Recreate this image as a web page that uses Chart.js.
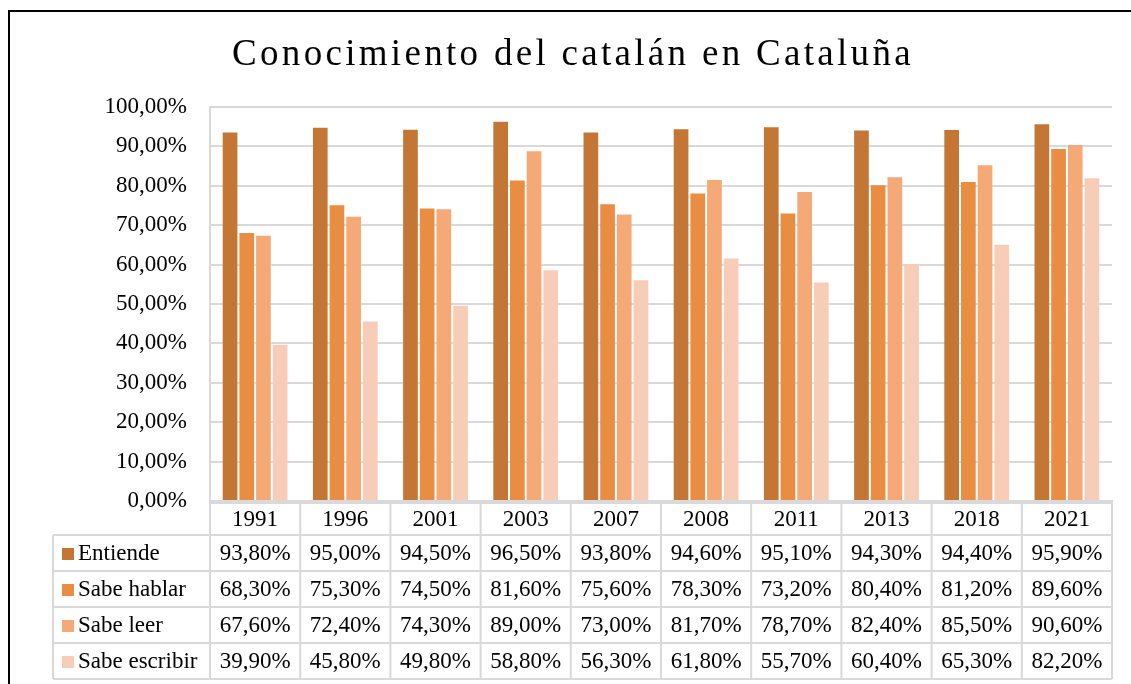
<!DOCTYPE html>
<html>
<head>
<meta charset="utf-8">
<script src="https://cdn.jsdelivr.net/npm/chart.js@4"></script>
<style>
    html, body { margin: 0; padding: 0; background: #fff; }
    #wrap { position: relative; width: 1131px; height: 684px; }
</style>
</head>
<body>
<div id="wrap"><canvas id="chart" width="1131" height="684"></canvas></div>
<script>
const years = ['1991', '1996', '2001', '2003', '2007', '2008', '2011', '2013', '2018', '2021'];
const entiende = [93.8, 95.0, 94.5, 96.5, 93.8, 94.6, 95.1, 94.3, 94.4, 95.9];
const sabeHablar = [68.3, 75.3, 74.5, 81.6, 75.6, 78.3, 73.2, 80.4, 81.2, 89.6];
const sabeLeer = [67.6, 72.4, 74.3, 89.0, 73.0, 81.7, 78.7, 82.4, 85.5, 90.6];
const sabeEscribir = [39.9, 45.8, 49.8, 58.8, 56.3, 61.8, 55.7, 60.4, 65.3, 82.2];
const seriesNames = ['Entiende', 'Sabe hablar', 'Sabe leer', 'Sabe escribir'];
const seriesColors = ['#C47734', '#E98D43', '#F5A977', '#F8CDB7'];
const yTicks = [0, 10, 20, 30, 40, 50, 60, 70, 80, 90, 100];

const FONT = '"Liberation Serif", "Times New Roman", serif';
const fmt = v => v.toFixed(2).replace('.', ',') + '%';

// draws title, frame and the data table under the plot
const tablePlugin = {
    id: 'tablePlugin',
    afterDraw(chart) {
        const ctx = chart.ctx;
        const x = chart.scales.x;
        const area = chart.chartArea;
        const n = years.length;
        const colW = (area.right - area.left) / n;
        const headTop = area.bottom + 2;
        const headH = 32;
        const rowH = 36;
        const labelLeft = 53;

        ctx.save();
        // outer frame
        ctx.strokeStyle = '#000';
        ctx.lineWidth = 2;
        ctx.beginPath();
        ctx.moveTo(9, 684);
        ctx.lineTo(9, 11);
        ctx.lineTo(1131, 11);
        ctx.stroke();

        // title
        ctx.fillStyle = '#000';
        ctx.font = '37px ' + FONT;
        ctx.letterSpacing = '3.3px';
        ctx.textAlign = 'center';
        ctx.textBaseline = 'alphabetic';
        ctx.fillText('Conocimiento del catalán en Cataluña', 573, 65);
        ctx.letterSpacing = '0px';

        // table grid
        ctx.strokeStyle = '#D9D9D9';
        ctx.lineWidth = 2;
        const tableBottom = headTop + headH + rowH * seriesNames.length;
        ctx.beginPath();
        for (let i = 0; i <= n; i++) {
            const px = area.left + i * colW;
            ctx.moveTo(px, area.bottom);
            ctx.lineTo(px, tableBottom);
        }
        ctx.moveTo(labelLeft, headTop + headH);
        ctx.lineTo(labelLeft, tableBottom);
        ctx.moveTo(area.left, headTop);
        ctx.lineTo(area.right, headTop);
        for (let r = 0; r <= seriesNames.length; r++) {
            const py = headTop + headH + r * rowH;
            ctx.moveTo(labelLeft, py);
            ctx.lineTo(area.right, py);
        }
        ctx.stroke();

        // header labels
        ctx.fillStyle = '#000';
        ctx.font = '23px ' + FONT;
        ctx.textAlign = 'center';
        ctx.textBaseline = 'middle';
        years.forEach((yr, i) => {
            ctx.fillText(yr, x.getPixelForValue(i), headTop + headH / 2 + 1);
        });

        // rows
        const rows = [entiende, sabeHablar, sabeLeer, sabeEscribir];
        rows.forEach((vals, r) => {
            const cy = headTop + headH + r * rowH + rowH / 2 + 1;
            ctx.fillStyle = seriesColors[r];
            ctx.fillRect(62, cy - 6, 12, 12);
            ctx.fillStyle = '#000';
            ctx.textAlign = 'left';
            ctx.fillText(seriesNames[r], 78, cy);
            ctx.textAlign = 'center';
            vals.forEach((v, i) => {
                ctx.fillText(fmt(v), x.getPixelForValue(i), cy);
            });
        });
        ctx.restore();
    }
};

const datasets = [entiende, sabeHablar, sabeLeer, sabeEscribir].map((d, i) => ({
    label: seriesNames[i],
    data: d,
    backgroundColor: seriesColors[i],
    borderColor: 'rgba(255,255,255,0.18)',
    borderWidth: 1,
    categoryPercentage: 0.74,
    barPercentage: 1.0
}));

new Chart(document.getElementById('chart'), {
    type: 'bar',
    data: { labels: years, datasets },
    options: {
        responsive: false,
        animation: false,
        layout: { padding: { left: 0, right: 19, top: 107, bottom: 183 } },
        plugins: {
            legend: { display: false },
            title: { display: false },
            tooltip: { enabled: false }
        },
        scales: {
            x: {
                display: true,
                ticks: { display: false },
                grid: { display: false, drawTicks: false },
                border: { display: true, color: '#D9D9D9', width: 2 }
            },
            y: {
                min: 0,
                max: 100,
                afterFit(scale) { scale.width = 210; },
                afterBuildTicks(scale) { scale.ticks = yTicks.map(v => ({ value: v })); },
                ticks: {
                    padding: 23,
                    color: '#000',
                    font: { family: FONT, size: 23 },
                    callback: v => fmt(v)
                },
                grid: { color: '#D9D9D9', lineWidth: 2, drawTicks: false },
                border: { display: true, color: '#D9D9D9', width: 2 }
            }
        }
    },
    plugins: [tablePlugin]
});
</script>
</body>
</html>
